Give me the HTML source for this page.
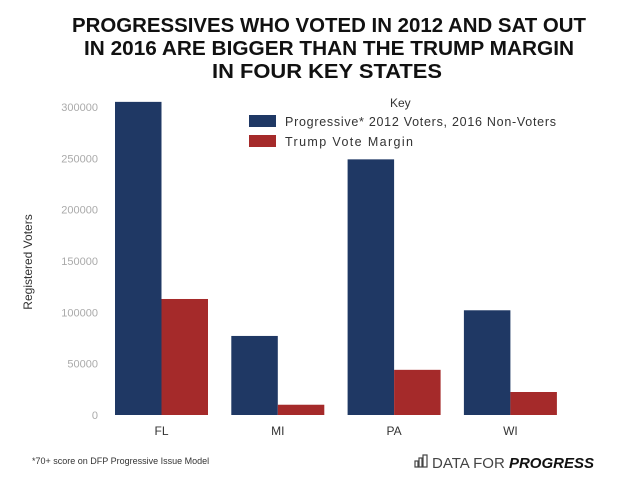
<!DOCTYPE html>
<html><head><meta charset="utf-8"><style>
body{margin:0;background:#fff;}
svg{display:block;font-family:"Liberation Sans",sans-serif;}
</style></head><body>
<svg width="635" height="496" viewBox="0 0 635 496">
<g font-weight="bold" font-size="20" text-anchor="middle" fill="#111">
<text x="329" y="32" textLength="514" lengthAdjust="spacingAndGlyphs">PROGRESSIVES WHO VOTED IN 2012 AND SAT OUT</text>
<text x="329" y="55" textLength="490" lengthAdjust="spacingAndGlyphs">IN 2016 ARE BIGGER THAN THE TRUMP MARGIN</text>
<text x="327" y="78" textLength="230" lengthAdjust="spacingAndGlyphs">IN FOUR KEY STATES</text>
</g>
<g id="axes"></g>
<g id="bars"></g>
<text x="32" y="262" transform="rotate(-90 32 262)" text-anchor="middle" font-size="12" fill="#333">Registered Voters</text>
<g>
<text x="390" y="107" font-size="12" fill="#333">Key</text>
<rect x="249" y="115" width="27" height="12" fill="#1f3864"/>
<text x="285" y="126" font-size="12.5" fill="#333" textLength="271">Progressive* 2012 Voters, 2016 Non-Voters</text>
<rect x="249" y="135" width="27" height="12" fill="#a52a2a"/>
<text x="285" y="146" font-size="12.5" fill="#333" textLength="128">Trump Vote Margin</text>
</g>
<text x="32" y="464" font-size="9" fill="#333">*70+ score on DFP Progressive Issue Model</text>
<g>
<g fill="none" stroke="#444" stroke-width="1.2">
<rect x="415" y="461" width="3" height="6"/><rect x="419" y="458" width="3" height="9"/><rect x="423" y="455" width="4" height="12"/>
</g>
<text x="432" y="468" font-size="15" fill="#444">DATA FOR <tspan font-weight="bold" font-style="italic" fill="#111">PROGRESS</tspan></text>
</g>
</svg>
<script>
const categories=["FL","MI","PA","WI"];
const progressive=[305000,77000,249000,102000];
const trump=[113000,10000,44000,22400];
const yTicks=[0,50000,100000,150000,200000,250000,300000];
const NS="http://www.w3.org/2000/svg";
const y0=415,yTop=107,yMax=300000;
const y=v=>y0-(v/yMax)*(y0-yTop);
const bandStart=115,bandStep=116.3,bw=46.5;
const axes=document.getElementById('axes'),bars=document.getElementById('bars');
function mk(tag,attrs,parent){const e=document.createElementNS(NS,tag);for(const k in attrs)e.setAttribute(k,attrs[k]);parent.appendChild(e);return e;}
yTicks.forEach(t=>{
 const tx=mk('text',{x:98,y:y(t)+4,'text-anchor':'end','font-size':11,fill:'#aaa'},axes);
 tx.textContent=t;
 
 
});
categories.forEach((c,i)=>{
 const x=bandStart+i*bandStep;
 const b1=mk('rect',{x:x,y:y(progressive[i]),width:bw,height:y0-y(progressive[i]),fill:'#1f3864'},bars);
 
 
 const b2=mk('rect',{x:x+bw,y:y(trump[i]),width:bw,height:y0-y(trump[i]),fill:'#a52a2a'},bars);
 
 
 const t=mk('text',{x:x+bw,y:435,'text-anchor':'middle','font-size':12,fill:'#333'},axes);
 t.textContent=c;
 
 
});
</script>
</body></html>
